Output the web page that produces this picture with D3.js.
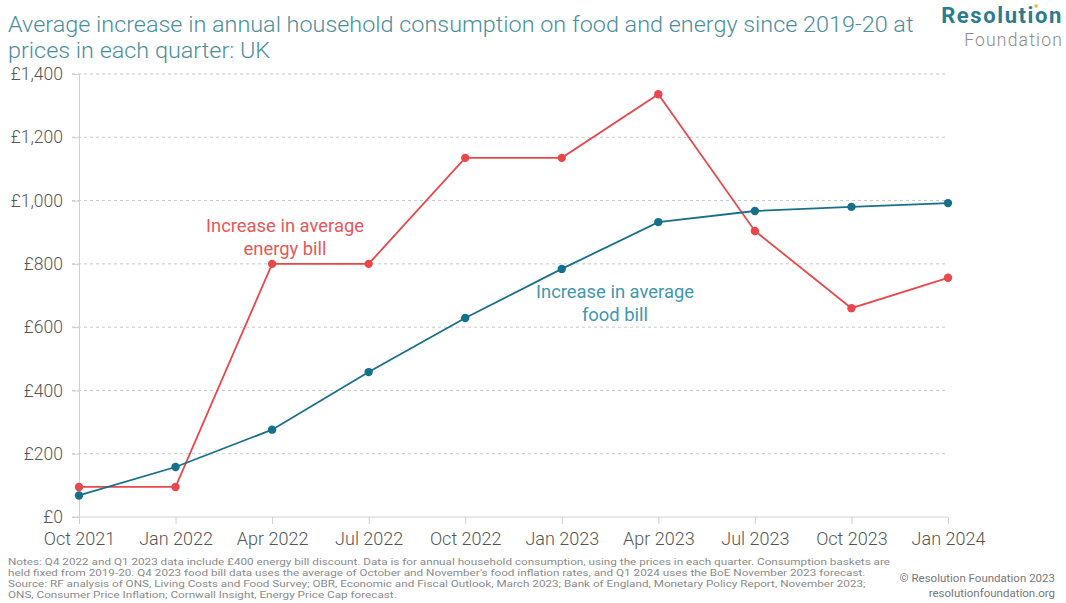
<!DOCTYPE html>
<html><head><meta charset="utf-8">
<script src="https://cdn.jsdelivr.net/npm/d3@7"></script>
<style>body{margin:0;background:#fff;}svg{display:block;font-family:Roboto,"Open Sans",sans-serif;}</style>
</head><body><svg id="c" width="1066" height="603"></svg>
<script>
const quarters = ["Oct 2021","Jan 2022","Apr 2022","Jul 2022","Oct 2022","Jan 2023","Apr 2023","Jul 2023","Oct 2023","Jan 2024"];
const energy = [95, 95, 800, 800, 1135, 1135, 1336, 904, 660, 756];
const food = [68, 158, 276, 458, 629, 784, 932, 967, 980, 992];
const yTicks = [0,200,400,600,800,1000,1200,1400];
const notes = [
 "Notes: Q4 2022 and Q1 2023 data include £400 energy bill discount. Data is for annual household consumption, using the prices in each quarter. Consumption baskets are",
 "held fixed from 2019-20. Q4 2023 food bill data uses the average of October and November's food inflation rates, and Q1 2024 uses the BoE November 2023 forecast.",
 "Source: RF analysis of ONS, Living Costs and Food Survey; OBR, Economic and Fiscal Outlook, March 2023; Bank of England, Monetary Policy Report, November 2023;",
 "ONS, Consumer Price Inflation; Cornwall Insight, Energy Price Cap forecast."
];

const svg = d3.select("#c");
const x = d3.scalePoint().domain(quarters).range([79, 948]);
const y = d3.scaleLinear().domain([0,1400]).range([517, 74]);
const red = "#e8474b", teal = "#16708c";

// title
const title = svg.append("text").attr("fill","#4b8e9b").attr("font-size",22).attr("font-weight",300)
  .attr("font-family","Roboto, sans-serif").attr("transform","translate(8,0) scale(1.064,1)");
title.append("tspan").attr("x",0).attr("y",32.5).text("Average increase in annual household consumption on food and energy since 2019-20 at");
title.append("tspan").attr("x",0).attr("y",58.5).text("prices in each quarter: UK");

// logo
const logo = svg.append("text").attr("text-anchor","end").attr("font-family","Roboto, sans-serif");
logo.append("tspan").attr("x",1063).attr("y",23).attr("font-size",22).attr("font-weight",700)
  .attr("letter-spacing",1.6).attr("fill","#2d7b8e").text("Resolution");
logo.append("tspan").attr("x",1063).attr("y",45.5).attr("font-size",17.5).attr("font-weight",300)
  .attr("letter-spacing",1.2).attr("fill","#8a8a8a").text("Foundation");
svg.append("circle").attr("cx",1036).attr("cy",6).attr("r",1.8).attr("fill","#f2b431");

// gridlines
svg.append("g").selectAll("line").data(yTicks.filter(d=>d>0)).join("line")
  .attr("x1",72).attr("x2",948).attr("y1",d=>y(d)).attr("y2",d=>y(d))
  .attr("stroke","#c8c8c8").attr("stroke-width",1).attr("stroke-dasharray","3,3");

// y axis
const ya = svg.append("g").attr("transform","translate(79,0)")
  .call(d3.axisLeft(y).tickValues(yTicks).tickSize(7).tickFormat(d=>"£"+d3.format(",")(d)));
ya.select(".domain").attr("stroke","#d0d0d0");
ya.selectAll(".tick line").attr("stroke","#d0d0d0");
ya.selectAll(".tick text").attr("font-size",17.5).attr("fill","#555").attr("x",-16)
  .attr("font-family","Roboto, sans-serif").attr("font-weight",300);

// x axis
const xa = svg.append("g").attr("transform","translate(0,517)")
  .call(d3.axisBottom(x).tickSize(7).tickPadding(8));
xa.select(".domain").attr("stroke","#d0d0d0").attr("d","M72,0H948");
xa.selectAll(".tick line").attr("stroke","#d0d0d0");
xa.selectAll(".tick text").attr("font-size",18).attr("fill","#555")
  .attr("font-family","Roboto, sans-serif").attr("font-weight",300);

// lines
const line = d3.line().x((d,i)=>x(quarters[i])).y(d=>y(d));
function series(vals,col){
  svg.append("path").datum(vals).attr("d",line).attr("fill","none").attr("stroke",col).attr("stroke-width",1.8);
  svg.append("g").selectAll("circle").data(vals).join("circle")
    .attr("cx",(d,i)=>x(quarters[i])).attr("cy",d=>y(d)).attr("r",4.2).attr("fill",col);
}
series(energy, red);
series(food, teal);

// annotations
function label(lines, cx, cy, col){
  const t = svg.append("text").attr("text-anchor","middle").attr("font-size",18.4).attr("fill",col)
    .attr("font-family","Roboto, sans-serif");
  lines.forEach((l,i)=>t.append("tspan").attr("x",cx).attr("y",cy+i*23).text(l));
}
label(["Increase in average","energy bill"], 285, 232, "#e5585a");
label(["Increase in average","food bill"], 615, 298, "#3f97ae");

// notes (horizontally stretched to match the condensed source typeface width)
const n = svg.append("text").attr("font-size",9.3).attr("fill","#8a8a8a").attr("font-family","Roboto, sans-serif")
  .attr("transform","translate(8,0) scale(1.26,1)");
notes.forEach((l,i)=>n.append("tspan").attr("x",0).attr("y",565+i*11).text(l));
const cr = svg.append("text").attr("text-anchor","end").attr("font-size",11.5).attr("fill","#777")
  .attr("font-family","Roboto, sans-serif");
cr.append("tspan").attr("x",1055).attr("y",582).text("© Resolution Foundation 2023");
cr.append("tspan").attr("x",1055).attr("y",597).text("resolutionfoundation.org");
</script></body></html>
